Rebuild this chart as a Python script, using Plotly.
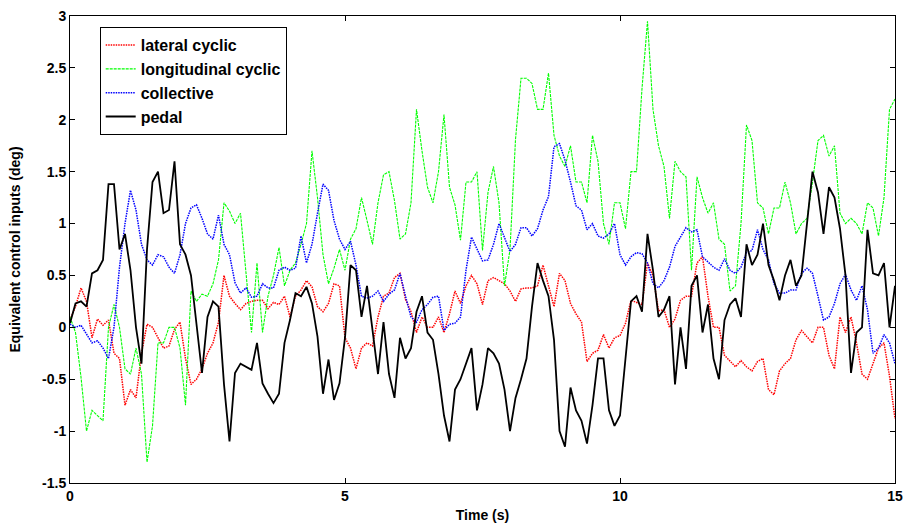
import numpy as np
import plotly.graph_objects as go

time_s = [round(0.1 * i, 1) for i in range(151)]

lateral_cyclic = [
    0.07, 0.2, 0.38, 0.25, -0.1, 0.08, 0.02, 0.07, -0.25, -0.3,
    -0.75, -0.6, -0.68, -0.25, 0.03, 0.0, -0.1, -0.2, -0.18, -0.02,
    0.05, -0.3, -0.55, -0.5, -0.4, -0.25, -0.15, 0.05, 0.5, 0.3,
    0.23, 0.17, 0.23, 0.25, 0.26, 0.26, 0.18, 0.24, 0.22, 0.3,
    0.1, 0.3, 0.36, 0.45, 0.39, 0.2, 0.15, 0.23, 0.42, 0.4,
    -0.1, -0.2, -0.4, -0.2, -0.15, -0.18, 0.1, 0.3, 0.33, 0.48,
    0.52, 0.27, 0.15, -0.05, 0.1, 0.0, 0.0, 0.1, -0.05, 0.13,
    0.35, 0.23, 0.4, 0.5, 0.42, 0.22, 0.45, 0.48, 0.45, 0.42,
    0.35, 0.25, 0.37, 0.38, 0.38, 0.4, 0.6, 0.4, 0.2, 0.52,
    0.45, 0.23, 0.13, 0.05, -0.33, -0.25, -0.22, -0.07, -0.2, -0.1,
    -0.08, 0.04, 0.26, 0.24, 0.22, 0.62, 0.5, 0.16, 0.17, 0.0,
    0.08, 0.26, 0.3, 0.3, 0.62, 0.68, 0.3, 0.0, 0.0, -0.27,
    -0.33, -0.38, -0.32, -0.38, -0.42, -0.33, -0.3, -0.6, -0.65, -0.42,
    -0.35, -0.3, -0.12, -0.03, -0.09, -0.15, 0.0, 0.0, -0.27, -0.4,
    0.1, -0.05, 0.1, -0.15, -0.45, -0.5, -0.35, -0.2, -0.15, -0.47,
    -0.88,
]

longitudinal_cyclic = [
    0.1, -0.05, -0.48, -1.0, -0.8, -0.85, -0.9, 0.0, 0.22, 0.0,
    -0.4, -0.45, -0.2, -0.45, -1.3, -0.95, -0.15, -0.15, 0.0, 0.0,
    -0.2, -0.75, 0.35, 0.25, 0.32, 0.3, 0.42, 0.65, 1.2, 1.12,
    1.0, 1.1, 0.5, -0.05, 0.62, -0.05, 0.3, 0.5, 0.77, 0.4,
    0.55, 0.62, 0.8, 1.0, 1.7, 1.25, 0.7, 0.42, 0.57, 0.75,
    0.55, 0.85, 0.95, 1.25, 1.03, 0.8, 1.2, 1.47, 1.5, 1.22,
    0.85, 0.9, 1.2, 2.1, 1.7, 1.35, 1.2, 1.5, 2.05, 1.35,
    1.18, 0.84, 1.4, 1.4, 1.5, 0.74, 1.3, 1.55, 1.2, 0.4,
    0.75, 1.81, 2.4, 2.4, 2.35, 2.1, 2.1, 2.45, 1.85, 1.65,
    1.55, 1.75, 1.4, 1.4, 1.2, 1.85, 1.6, 1.0, 0.8, 1.2,
    1.2, 0.95, 1.5, 1.5, 2.3, 2.95, 2.1, 1.75, 1.55, 1.05,
    1.6, 1.5, 1.45, 0.55, 1.45, 1.25, 1.1, 1.2, 0.85, 0.8,
    0.35, 0.4, 1.0, 1.95, 1.8, 1.2, 1.15, 0.9, 1.15, 1.15,
    1.4, 1.2, 0.9, 1.0, 1.05, 1.4, 1.8, 1.85, 1.65, 1.75,
    1.1, 1.0, 1.05, 1.0, 0.9, 1.2, 1.15, 0.88, 1.25, 2.1,
    2.2,
]

collective = [
    0.03, 0.0, 0.02, -0.06, -0.15, -0.13, -0.2, -0.3, 0.0, 0.58,
    1.0, 1.32, 1.13, 0.8, 0.65, 0.6, 0.7, 0.68, 0.58, 0.52,
    0.7, 1.0, 1.15, 1.18, 1.05, 0.9, 0.85, 1.08, 0.8, 0.7,
    0.43, 0.33, 0.38, 0.29, 0.3, 0.42, 0.38, 0.38, 0.55, 0.58,
    0.55, 0.57, 0.88, 0.62, 0.8, 1.1, 1.38, 1.32, 1.03, 0.85,
    0.75, 0.83, 0.6, 0.3, 0.28, 0.3, 0.35, 0.25, 0.32, 0.36,
    0.52, 0.3, 0.1, 0.05, 0.17, 0.22, 0.29, 0.3, -0.03, 0.03,
    0.04, 0.1, 0.55, 0.87, 0.75, 0.64, 0.65, 0.8, 1.0, 0.87,
    0.73, 0.8, 0.96, 0.96, 0.88, 0.95, 1.13, 1.26, 1.74, 1.77,
    1.61, 1.4, 1.17, 1.13, 0.94, 1.0, 0.88, 0.86, 0.9, 1.0,
    0.7, 0.6, 0.68, 0.72, 0.71, 0.62, 0.42, 0.38, 0.45, 0.58,
    0.78, 0.87, 0.96, 0.92, 0.94, 0.68, 0.63, 0.58, 0.55, 0.66,
    0.55, 0.52, 0.58, 0.72, 0.74, 0.94, 0.75, 0.65, 0.42, 0.33,
    0.33, 0.36, 0.36, 0.52, 0.57, 0.52, 0.3, 0.07, 0.1, 0.23,
    0.42, 0.51, 0.36, 0.26, 0.4, 0.17, -0.25, -0.2, -0.07, -0.15,
    -0.35,
]

pedal = [
    0.04, 0.23, 0.25, 0.2, 0.52, 0.55, 0.65, 1.38, 1.38, 0.75,
    0.9, 0.55, 0.0, -0.35, 0.75, 1.4, 1.5, 1.1, 1.13, 1.6,
    0.8, 0.7, 0.5, 0.0, -0.44, 0.1, 0.25, 0.2, -0.55, -1.1,
    -0.44, -0.35, -0.38, -0.41, -0.15, -0.54, -0.64, -0.73, -0.64, -0.15,
    0.07, 0.33, 0.3, 0.39, 0.23, -0.09, -0.64, -0.31, -0.7, -0.54,
    -0.1, 0.6, 0.55, 0.1, 0.4, 0.0, -0.45, 0.05, -0.45, -0.68,
    -0.1, -0.3, -0.2, 0.15, 0.3, -0.05, -0.12, -0.45, -0.85, -1.1,
    -0.6, -0.5, -0.35, -0.2, -0.8, -0.55, -0.2, -0.25, -0.35, -0.6,
    -1.0, -0.68, -0.5, -0.3, 0.2, 0.62, 0.45, 0.3, -0.12, -1.0,
    -1.15, -0.58, -0.8, -0.9, -1.12, -0.75, -0.3, -0.3, -0.8, -0.95,
    -0.85, -0.28, 0.25, 0.3, 0.15, 0.9, 0.55, 0.1, 0.17, 0.3,
    -0.55, 0.0, -0.4, 0.4, 0.5, -0.05, 0.22, -0.3, -0.5, 0.07,
    0.22, 0.28, 0.1, 0.8, 0.6, 0.7, 1.0, 0.6, 0.45, 0.26,
    0.5, 0.65, 0.4, 0.5, 1.0, 1.5, 1.3, 0.9, 1.35, 1.25,
    0.95, 0.5, -0.44, -0.05, 0.0, 0.94, 0.52, 0.5, 0.62, 0.0,
    0.4,
]

x_ticks = [0, 5, 10, 15]
y_ticks = [-1.5, -1, -0.5, 0, 0.5, 1, 1.5, 2, 2.5, 3]
y_tick_text = ["-1.5", "-1", "-0.5", "0", "0.5", "1", "1.5", "2", "2.5", "3"]

FONT = "Liberation Sans, Arial, sans-serif"

fig = go.Figure()
fig.add_trace(go.Scatter(x=time_s, y=lateral_cyclic, mode="lines", name="lateral cyclic",
                         line=dict(color="#ff0000", width=1.5, dash="1.5px,1px")))
fig.add_trace(go.Scatter(x=time_s, y=longitudinal_cyclic, mode="lines", name="longitudinal cyclic",
                         line=dict(color="#00ff00", width=1.1, dash="3px,1px")))
fig.add_trace(go.Scatter(x=time_s, y=collective, mode="lines", name="collective",
                         line=dict(color="#0000ff", width=1.5, dash="1.5px,1px")))
fig.add_trace(go.Scatter(x=time_s, y=pedal, mode="lines", name="pedal",
                         line=dict(color="#000000", width=1.8)))

axis_common = dict(showgrid=False, zeroline=False, showline=True, linecolor="black",
                   linewidth=1, mirror="ticks", ticks="inside", ticklen=5,
                   tickcolor="black", automargin=False,
                   tickfont=dict(family=FONT, size=14, color="black", weight="bold"))

fig.update_xaxes(range=[0, 15], tickvals=x_ticks, ticktext=[str(v) for v in x_ticks],
                 title=dict(text="Time (s)", font=dict(family=FONT, size=14, color="black", weight="bold"),
                            standoff=7),
                 **axis_common)
fig.update_yaxes(range=[-1.5, 3], tickvals=y_ticks, ticktext=y_tick_text,
                 title=dict(text="Equivalent control inputs (deg)",
                            font=dict(family=FONT, size=14, color="black", weight="bold"),
                            standoff=18),
                 **axis_common)

fig.update_layout(
    width=906, height=529,
    margin=dict(l=70, r=11, t=16, b=46),
    plot_bgcolor="white", paper_bgcolor="white",
    showlegend=True,
    legend=dict(x=0.036, y=0.976, xanchor="left", yanchor="top",
                bgcolor="white", bordercolor="black", borderwidth=1,
                itemwidth=30, tracegroupgap=0,
                font=dict(family=FONT, size=16, color="black", weight="bold")),
)

fig.write_html("out.html")
